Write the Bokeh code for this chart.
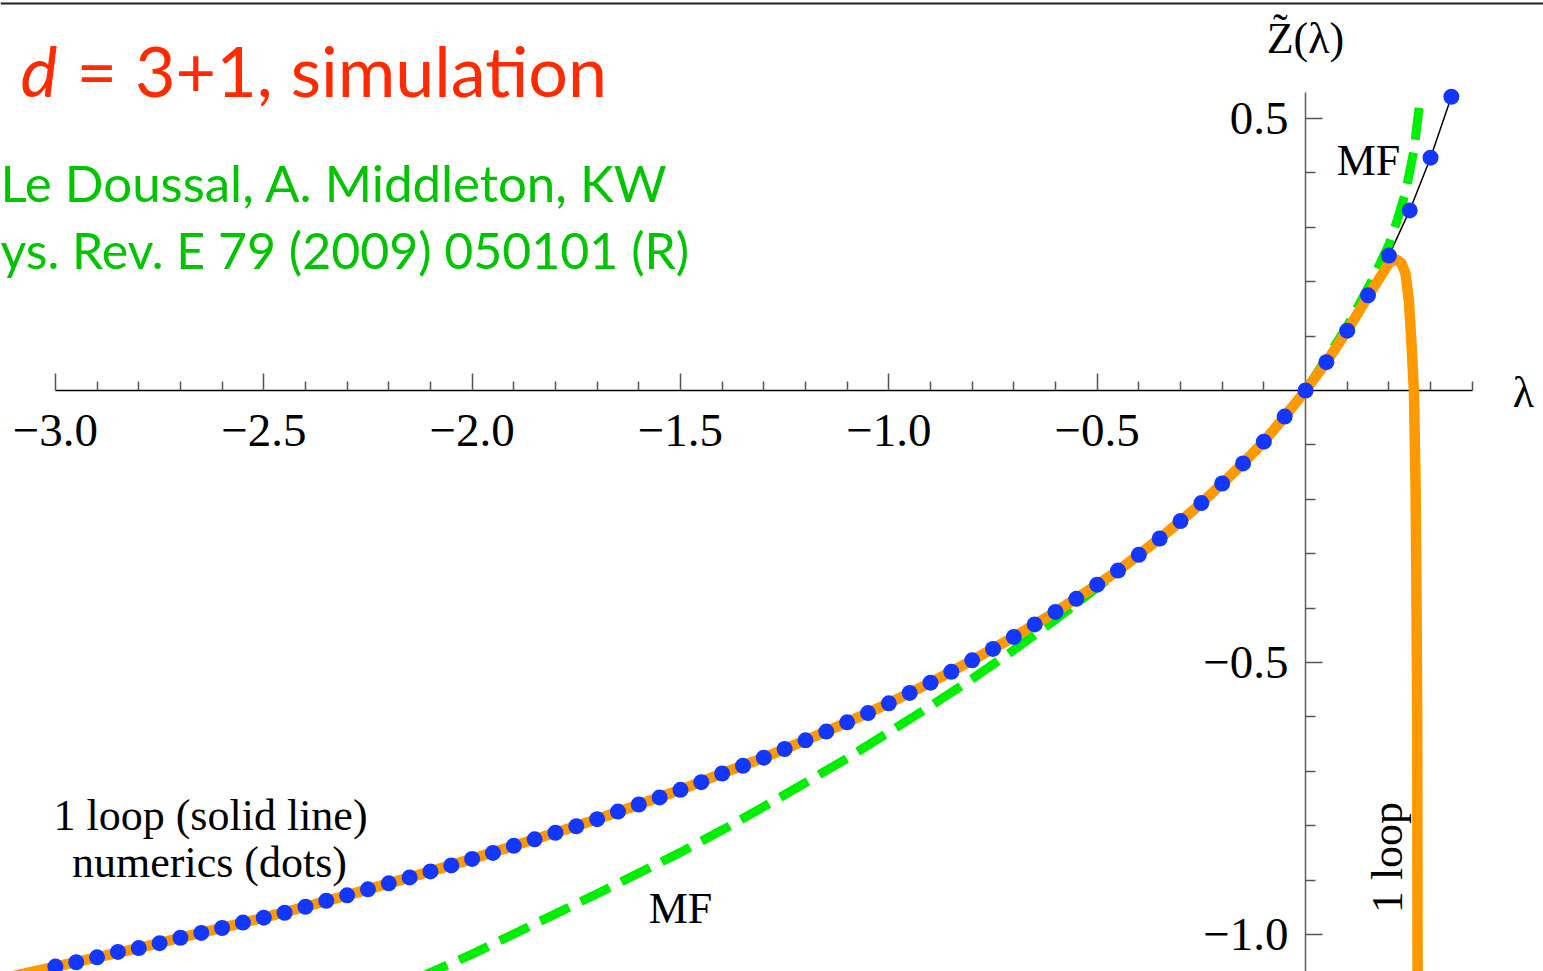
import numpy as np
from bokeh.plotting import figure
from bokeh.models import (Range1d, LinearAxis, FixedTicker, CustomJSTickFormatter,
                          Label, Span, ColumnDataSource)
from bokeh.embed import file_html
from bokeh.resources import INLINE

# ---------------- data ----------------
# numerics (dots), lambda step 0.05
lam_dots = [-3.00, -2.95, -2.90, -2.85, -2.80, -2.75, -2.70, -2.65, -2.60, -2.55,
            -2.50, -2.45, -2.40, -2.35, -2.30, -2.25, -2.20, -2.15, -2.10, -2.05,
            -2.00, -1.95, -1.90, -1.85, -1.80, -1.75, -1.70, -1.65, -1.60, -1.55,
            -1.50, -1.45, -1.40, -1.35, -1.30, -1.25, -1.20, -1.15, -1.10, -1.05,
            -1.00, -0.95, -0.90, -0.85, -0.80, -0.75, -0.70, -0.65, -0.60, -0.55,
            -0.50, -0.45, -0.40, -0.35, -0.30, -0.25, -0.20, -0.15, -0.10, -0.05,
            0.00, 0.05, 0.10, 0.15, 0.20, 0.25, 0.30, 0.35]
z_dots = [-1.059, -1.051, -1.042, -1.032, -1.025, -1.016, -1.006, -0.997, -0.988, -0.978,
          -0.969, -0.960, -0.949, -0.938, -0.928, -0.917, -0.906, -0.895, -0.884, -0.873,
          -0.861, -0.850, -0.837, -0.825, -0.813, -0.801, -0.788, -0.774, -0.761, -0.748,
          -0.734, -0.720, -0.704, -0.690, -0.675, -0.659, -0.643, -0.627, -0.610, -0.593,
          -0.575, -0.556, -0.537, -0.517, -0.496, -0.475, -0.453, -0.430, -0.407, -0.383,
          -0.357, -0.331, -0.302, -0.272, -0.240, -0.207, -0.171, -0.134, -0.094, -0.048,
          0.000, 0.052, 0.110, 0.175, 0.248, 0.331, 0.428, 0.540]

# 1 loop (solid orange line)
lam_loop = [-3.10, -3.00, -2.90, -2.80, -2.70, -2.60, -2.50, -2.40, -2.30, -2.20,
            -2.10, -2.00, -1.90, -1.80, -1.70, -1.60, -1.50, -1.40, -1.30, -1.20,
            -1.10, -1.00, -0.90, -0.80, -0.70, -0.60, -0.50, -0.45, -0.40, -0.35,
            -0.30, -0.25, -0.20, -0.15, -0.10, -0.05, 0.00, 0.05, 0.10, 0.15,
            0.20, 0.21, 0.22, 0.23, 0.24, 0.248, 0.254, 0.260, 0.264, 0.266,
            0.268, 0.269]
z_loop = [-1.076, -1.059, -1.042, -1.025, -1.006, -0.988, -0.969, -0.949, -0.928, -0.906,
          -0.884, -0.861, -0.837, -0.813, -0.788, -0.761, -0.734, -0.704, -0.675, -0.643,
          -0.610, -0.575, -0.537, -0.496, -0.453, -0.407, -0.357, -0.331, -0.302, -0.272,
          -0.240, -0.207, -0.171, -0.134, -0.094, -0.048, 0.000, 0.052, 0.110, 0.173,
          0.234, 0.239, 0.240, 0.234, 0.215, 0.165, 0.090, 0.000, -0.165, -0.350,
          -0.600, -1.100]

# mean field (dashed green line)
lam_mf = [-2.13, -2.00, -1.90, -1.80, -1.70, -1.60, -1.50, -1.40, -1.30, -1.20,
          -1.10, -1.00, -0.90, -0.80, -0.70, -0.60, -0.50, -0.40, -0.30, -0.20,
          -0.10, 0.00, 0.10, 0.16, 0.20, 0.22, 0.24, 0.26, 0.273]
z_mf = [-1.080, -1.036, -0.999, -0.962, -0.925, -0.887, -0.849, -0.808, -0.765, -0.721,
        -0.676, -0.628, -0.580, -0.530, -0.477, -0.421, -0.362, -0.303, -0.242, -0.173,
        -0.093, 0.000, 0.118, 0.203, 0.268, 0.313, 0.364, 0.441, 0.522]

x_major = [-3.0, -2.5, -2.0, -1.5, -1.0, -0.5]
x_minor = [-2.9, -2.8, -2.7, -2.6, -2.4, -2.3, -2.2, -2.1, -1.9, -1.8, -1.7, -1.6,
           -1.4, -1.3, -1.2, -1.1, -0.9, -0.8, -0.7, -0.6, -0.4, -0.3, -0.2, -0.1,
           0.1, 0.2, 0.3, 0.4]
y_major = [0.5, -0.5, -1.0]
y_minor = [0.4, 0.3, 0.2, 0.1, -0.1, -0.2, -0.3, -0.4, -0.6, -0.7, -0.8, -0.9]

# ---------------- layout ----------------
W, H = 1543, 971
X0, X1 = -3.1318, 0.5711
Y0, Y1 = -1.0680, 0.7169


def X(px):
    return X0 + px / W * (X1 - X0)


def Y(py):
    return Y1 - py / H * (Y1 - Y0)


p = figure(width=W, height=H, x_range=Range1d(X0, X1), y_range=Range1d(Y0, Y1),
           output_backend="svg", toolbar_location=None, min_border=0,
           x_axis_type=None, y_axis_type=None)
p.outline_line_color = None
p.background_fill_color = "white"
p.border_fill_color = "white"

fmt = CustomJSTickFormatter(code="return (tick < 0 ? '\u2212' : '') + Math.abs(tick).toFixed(1);")
SERIF = "Liberation Serif"

xaxis = LinearAxis(fixed_location=0, bounds=(-3.0, 0.4),
                   ticker=FixedTicker(ticks=x_major, minor_ticks=x_minor),
                   formatter=fmt, level="underlay")
xaxis.axis_line_color = "black"
xaxis.axis_line_width = 1.6
xaxis.major_tick_in = 17
xaxis.major_tick_out = 0
xaxis.minor_tick_in = 9
xaxis.minor_tick_out = 0
xaxis.major_tick_line_color = "#555555"
xaxis.minor_tick_line_color = "#555555"
xaxis.major_tick_line_width = 1.5
xaxis.minor_tick_line_width = 1.5
xaxis.major_label_text_font = SERIF
xaxis.major_label_text_font_size = "47px"
xaxis.major_label_text_color = "black"
xaxis.major_label_standoff = 25
p.add_layout(xaxis, "below")

yaxis = LinearAxis(fixed_location=0, bounds=(-1.2, 0.547),
                   ticker=FixedTicker(ticks=y_major, minor_ticks=y_minor),
                   formatter=fmt, level="underlay")
yaxis.axis_line_color = "#666666"
yaxis.axis_line_width = 1.6
yaxis.major_tick_in = 17
yaxis.major_tick_out = 0
yaxis.minor_tick_in = 10
yaxis.minor_tick_out = 0
yaxis.major_tick_line_color = "#555555"
yaxis.minor_tick_line_color = "#555555"
yaxis.major_tick_line_width = 1.5
yaxis.minor_tick_line_width = 1.5
yaxis.major_label_text_font = SERIF
yaxis.major_label_text_font_size = "47px"
yaxis.major_label_text_color = "black"
yaxis.major_label_standoff = 17
yaxis.major_label_orientation = "horizontal"
p.add_layout(yaxis, "left")

# top frame line of the slide
p.add_layout(Span(location=Y(3), dimension="width", line_color="#222222", line_width=2))

# ---------------- curves ----------------
dots = ColumnDataSource(dict(lam=lam_dots, z=z_dots))
loop = ColumnDataSource(dict(lam=lam_loop, z=z_loop))
mf = ColumnDataSource(dict(lam=lam_mf, z=z_mf))

p.line("lam", "z", source=dots, line_color="black", line_width=1.5)
p.line("lam", "z", source=mf, line_color="#00ee00", line_width=9, line_dash="32 13")
p.line("lam", "z", source=loop, line_color="#ff9900", line_width=10.5, line_join="round")
p.scatter("lam", "z", source=dots, size=16, fill_color="#1437ff", line_color=None)

# ---------------- texts ----------------
def lab(px, py, text, font=SERIF, size="44px", color="black", align="center",
        baseline="middle", style="normal", angle=0):
    p.add_layout(Label(x=X(px), y=Y(py), text=text, text_font=font, text_font_size=size,
                       text_color=color, text_align=align, text_baseline=baseline,
                       text_font_style=style, angle=angle, angle_units="deg"))


lab(1305, 38, "Z\u0303(\u03bb)")
lab(1523, 392, "\u03bb")
lab(1368, 160, "MF")
lab(680, 908, "MF")
lab(210, 815, "1 loop (solid line)")
lab(209, 862, "numerics (dots)")
lab(1387, 857, "1 loop", angle=90)

RED = "#ff2a00"
GREEN = "#00c400"
# baseline positions (alphabetic baseline renders ~0.41em low, compensated)
lab(20, 98 - 29, "d", font="Lato", size="70px", color=RED, align="left",
    baseline="alphabetic", style="italic")
lab(76, 98 - 29, "= 3+1, simulation", font="Lato", size="70px", color=RED, align="left",
    baseline="alphabetic")
lab(0, 203 - 21, "Le Doussal, A. Middleton, KW", font="Lato", size="51px", color=GREEN,
    align="left", baseline="alphabetic")
lab(0, 270 - 21, "ys. Rev. E 79 (2009) 050101 (R)", font="Lato", size="50px", color=GREEN,
    align="left", baseline="alphabetic")

open("out.html", "w").write(file_html(p, INLINE))
